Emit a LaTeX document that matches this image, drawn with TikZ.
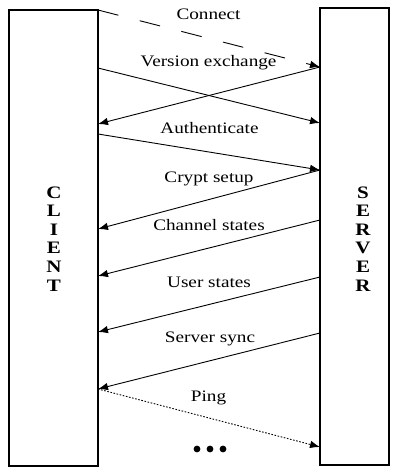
\documentclass[tikz,border=0pt]{standalone}
\usepackage{fontspec}
\setmainfont{Liberation Serif}[FakeStretch=1.2]
\usetikzlibrary{arrows.meta}
\begin{document}
\begin{tikzpicture}[x=1pt,y=-1pt,
  party/.style={draw, line width=1.1pt, inner sep=0pt},
  msg/.style={line width=0.9pt, -{Latex[length=10pt,width=7.5pt]}},
  lbl/.style={font=\fontsize{16}{18}\selectfont, inner sep=0pt, anchor=base},
  vlet/.style={font=\fontsize{17.5}{18}\selectfont\bfseries, inner sep=0pt, anchor=base}]
\useasboundingbox (0,0) rectangle (401,468);
% boxes
\node[party, minimum width=89pt, minimum height=456pt] (client) at (53.5,238) {};
\node[party, minimum width=69pt, minimum height=457pt] (server) at (354.5,236.5) {};
% vertical labels
\foreach \l [count=\i] in {C,L,I,E,N,T}
  \node[vlet] (cl\i) at (54,{198+18.6*(\i-1)}) {\l};
\foreach \l [count=\i] in {S,E,R,V,E,R}
  \node[vlet] (sv\i) at (363,{198+18.6*(\i-1)}) {\l};
% endpoints
\coordinate (c0) at (98,10);
\coordinate (c1) at (98,68);
\coordinate (c2) at (98,124);
\coordinate (c3) at (98,134);
\coordinate (c4) at (98,229);
\coordinate (c5) at (98,276);
\coordinate (c6) at (98,332);
\coordinate (c7) at (98,389);
\coordinate (s1) at (320,67);
\coordinate (s2) at (320,123);
\coordinate (s3) at (320,170);
\coordinate (s4) at (320,220);
\coordinate (s5) at (320,277);
\coordinate (s6) at (320,333);
\coordinate (s7) at (320,447);
% messages
\draw[msg, dash pattern=on 21pt off 22pt] (c0) -- (s1);
\draw[msg] (c1) -- (s2);
\draw[msg] (s1) -- (c2);
\draw[msg] (c3) -- (s3);
\draw[msg] (s3) -- (c4);
\draw[msg] (s4) -- (c5);
\draw[msg] (s5) -- (c6);
\draw[msg] (s6) -- (c7);
\draw[msg, dash pattern=on 1.6pt off 1.6pt] (c7) -- (s7);
% labels
\node[lbl] (lconnect) at (208.5,20) {Connect};
\node[lbl] (lversion) at (208.5,67) {Version exchange};
\node[lbl] (lauth) at (209.5,133) {Authenticate};
\node[lbl] (lcrypt) at (209,182) {Crypt setup};
\node[lbl] (lchannel) at (209,230) {Channel states};
\node[lbl] (luser) at (209,287) {User states};
\node[lbl] (lsync) at (210,342) {Server sync};
\node[lbl] (lping) at (208.5,401) {Ping};
% ellipsis dots
\foreach \x in {197,210,223}
  \fill (\x,449) circle (3.4pt);
\end{tikzpicture}
\end{document}
